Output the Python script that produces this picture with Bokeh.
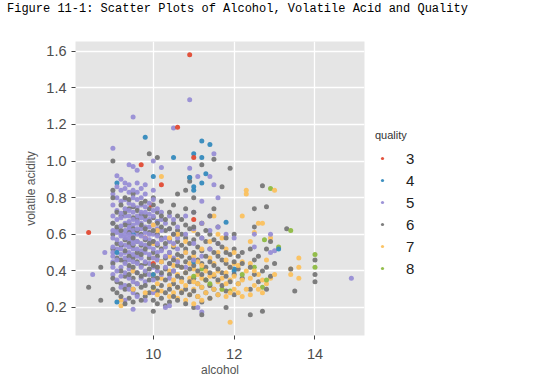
from bokeh.plotting import figure
from bokeh.layouts import column
from bokeh.models import (ColumnDataSource, Range1d, FixedTicker, Legend, LegendItem,
                          PrintfTickFormatter, Div)
from bokeh.embed import file_html
from bokeh.resources import INLINE

# ---- data: (alcohol, [volatile acidity, ...]) ----
q3_cols = [(8.4, [0.61]), (9.7, [0.98]), (9.95, [0.76]), (10.2, [0.87]), (10.6, [1.185]),
           (10.9, [1.58]), (11.0, [1.02]), (9.8, [0.58]), (10.0, [0.44]), (11.0, [0.68])]

q4_cols = [(9.1, [0.88, 0.23, 0.5]), (9.5, [0.6]), (9.8, [1.13]), (10.0, [0.915, 0.38]),
           (10.1, [0.67]), (10.5, [1.02]), (10.9, [0.91]), (11.0, [1.04, 0.86, 0.84, 0.45]),
           (11.2, [1.11, 1.02, 0.88]), (11.3, [0.93]), (11.4, [1.09]), (11.8, [0.665]),
           (12.0, [0.41, 0.40]), (13.1, [0.52])]

q5_cols = [
    (8.5, [0.38]), (8.8, [0.5]),
    (9.0, [0.38, 0.45, 0.5, 0.58, 0.62, 0.66, 0.7, 0.76, 0.82, 0.48, 0.53, 0.42, 1.07]),
    (9.1, [0.4, 0.46, 0.52, 0.57, 0.63, 0.68, 0.73, 0.8, 0.86, 0.92, 0.35, 0.61]),
    (9.2, [0.37, 0.42, 0.49, 0.55, 0.6, 0.645, 0.69, 0.715, 0.78, 0.84, 0.9, 0.31, 0.52, 0.59]),
    (9.3, [0.32, 0.39, 0.44, 0.5, 0.54, 0.58, 0.62, 0.66, 0.7, 0.74, 0.79, 0.85, 0.88, 0.47, 0.6, 0.24]),
    (9.4, [0.3, 0.36, 0.41, 0.46, 0.5, 0.53, 0.56, 0.6, 0.63, 0.67, 0.7, 0.73, 0.77, 0.83, 0.87, 0.58, 0.64, 0.98]),
    (9.5, [0.28, 0.34, 0.4, 0.45, 0.49, 0.52, 0.55, 0.59, 0.62, 0.65, 0.68, 0.72, 0.76, 0.8, 0.84, 0.57, 0.61, 0.97, 1.24, 0.19]),
    (9.6, [0.33, 0.39, 0.44, 0.48, 0.52, 0.56, 0.6, 0.63, 0.67, 0.7, 0.745, 0.79, 0.83, 0.88, 0.66, 0.26, 0.95]),
    (9.7, [0.36, 0.42, 0.47, 0.51, 0.55, 0.59, 0.63, 0.66, 0.69, 0.72, 0.76, 0.8, 0.85]),
    (9.8, [0.34, 0.4, 0.45, 0.5, 0.54, 0.58, 0.61, 0.64, 0.68, 0.72, 0.75, 0.82, 0.87, 0.24]),
    (9.9, [0.38, 0.44, 0.49, 0.53, 0.57, 0.6, 0.64, 0.68, 0.71, 0.77]),
    (10.0, [0.35, 0.42, 0.47, 0.52, 0.56, 0.6, 0.65, 0.7, 0.73, 0.79, 0.84, 1.0, 0.28]),
    (10.1, [0.4, 0.46, 0.5, 0.55, 0.59, 0.63, 0.67, 0.74]),
    (10.2, [0.38, 0.45, 0.51, 0.57, 0.62, 0.68, 0.72, 0.965]),
    (10.3, [0.42, 0.48, 0.53, 0.58, 0.66, 0.2]),
    (10.4, [0.36, 0.44, 0.5, 0.56, 0.63, 0.7, 0.21]),
    (10.5, [0.4, 0.47, 0.55, 0.6, 0.68, 1.18]),
    (10.6, [0.45, 0.52, 0.58, 0.64]),
    (10.8, [0.42, 0.5, 0.6, 0.7]),
    (10.9, [1.335, 0.96]),
    (11.0, [0.46, 0.55, 0.63, 0.72]),
    (11.1, [0.915, 0.2]),
    (11.2, [0.48, 0.58, 0.66, 0.78, 0.175]),
    (11.4, [0.52, 0.62, 0.7, 0.915]),
    (11.5, [1.04, 0.87]),
    (11.6, [0.55, 0.64, 0.8]),
    (11.8, [0.6]), (12.0, [0.58]), (12.5, [0.6, 0.53]),
    (12.9, [0.5, 0.6]), (13.0, [0.51]), (14.9, [0.36]),
]

q6_cols = [
    (8.4, [0.31]), (8.7, [0.24, 0.42]),
    (9.0, [0.3, 0.36, 0.44, 0.52, 0.6, 0.66, 0.8, 0.84, 1.0]),
    (9.1, [0.28, 0.34, 0.47, 0.55, 0.64, 0.72]),
    (9.2, [0.26, 0.33, 0.4, 0.46, 0.54, 0.62, 0.7, 0.76]),
    (9.3, [0.22, 0.3, 0.37, 0.45, 0.51, 0.57, 0.65, 0.72, 0.8]),
    (9.4, [0.25, 0.32, 0.38, 0.43, 0.48, 0.55, 0.61, 0.66, 0.74, 0.79]),
    (9.5, [0.23, 0.3, 0.36, 0.42, 0.47, 0.54, 0.58, 0.63, 0.69, 0.75, 0.82]),
    (9.6, [0.27, 0.33, 0.39, 0.45, 0.5, 0.56, 0.62, 0.68, 0.73]),
    (9.7, [0.24, 0.31, 0.37, 0.43, 0.49, 0.54, 0.6, 0.65, 0.71, 0.77]),
    (9.8, [0.26, 0.32, 0.38, 0.44, 0.52, 0.57, 0.63, 0.7, 0.78]),
    (9.9, [0.28, 0.35, 0.41, 0.47, 0.55, 0.61, 0.67, 0.74, 1.04]),
    (10.0, [0.18, 0.24, 0.31, 0.37, 0.43, 0.5, 0.56, 0.62, 0.69, 0.76, 0.8]),
    (10.1, [0.22, 0.29, 0.36, 0.42, 0.48, 0.54, 0.6, 0.66, 0.72, 1.02]),
    (10.2, [0.25, 0.32, 0.39, 0.45, 0.52, 0.58, 0.64, 0.7, 0.78]),
    (10.3, [0.21, 0.28, 0.35, 0.41, 0.47, 0.55, 0.62, 0.68]),
    (10.4, [0.23, 0.3, 0.38, 0.44, 0.5, 0.57, 0.63, 0.72]),
    (10.5, [0.26, 0.33, 0.4, 0.46, 0.53, 0.6, 0.66, 0.76]),
    (10.6, [0.24, 0.31, 0.37, 0.43, 0.49, 0.56, 0.62, 0.7, 0.82]),
    (10.7, [0.28, 0.36, 0.42, 0.48, 0.54, 0.6, 0.68]),
    (10.8, [0.22, 0.3, 0.39, 0.45, 0.52, 0.58, 0.65, 0.74, 0.84]),
    (10.9, [0.27, 0.34, 0.41, 0.47, 0.55, 0.63, 0.91, 0.89]),
    (11.0, [0.2, 0.29, 0.36, 0.43, 0.5, 0.57, 0.64, 0.72, 0.8]),
    (11.1, [0.26, 0.33, 0.4, 0.46, 0.53, 0.6]),
    (11.2, [0.16, 0.23, 0.31, 0.38, 0.44, 0.51, 0.58, 0.66, 0.98]),
    (11.3, [0.28, 0.35, 0.42, 0.48, 0.56, 0.62]),
    (11.4, [0.25, 0.32, 0.39, 0.45, 0.52, 0.6, 0.7]),
    (11.5, [0.3, 0.37, 0.43, 0.5, 0.57, 1.01, 0.74]),
    (11.6, [0.27, 0.35, 0.41, 0.48, 0.55, 0.64]),
    (11.7, [0.32, 0.39, 0.46, 0.53, 0.86]),
    (11.8, [0.2, 0.29, 0.37, 0.44, 0.5, 0.58]),
    (11.9, [0.34, 0.42, 0.49, 0.96]),
    (12.0, [0.27, 0.38, 0.45, 0.52, 0.6]),
    (12.1, [0.33, 0.41, 0.48]),
    (12.2, [0.36, 0.44, 0.5]),
    (12.4, [0.16, 0.3, 0.42, 0.52]),
    (12.5, [0.38, 0.46, 0.74, 0.64]),
    (12.6, [0.34, 0.48]),
    (12.7, [0.18, 0.4, 0.865]),
    (12.8, [0.3, 0.42, 0.52, 0.75]),
    (12.9, [0.37, 0.56]),
    (13.0, [0.44]), (13.3, [0.63]), (13.4, [0.41]), (13.5, [0.29]),
    (14.0, [0.34, 0.38, 0.46]),
]

q7_cols = [
    (9.2, [0.21, 0.24]), (9.5, [0.3, 0.4]), (9.8, [0.28]),
    (10.0, [0.3, 0.38, 0.47, 0.55, 0.65]),
    (10.1, [0.27, 0.33, 0.42, 0.62]),
    (10.2, [0.29, 0.36, 0.45, 0.52, 0.915]),
    (10.4, [0.26, 0.32, 0.4, 0.48, 0.58]),
    (10.5, [0.28, 0.35, 0.43, 0.54]),
    (10.6, [0.25, 0.31, 0.38, 0.46, 0.6]),
    (10.7, [0.29, 0.34, 0.42]),
    (10.8, [0.24, 0.32, 0.39, 0.5, 0.56]),
    (10.9, [0.27, 0.36, 0.44]),
    (11.0, [0.22, 0.3, 0.34, 0.41, 0.48, 0.62]),
    (11.1, [0.26, 0.33, 0.38, 0.45]),
    (11.2, [0.24, 0.31, 0.36, 0.43, 0.52, 0.66]),
    (11.3, [0.28, 0.35, 0.4]),
    (11.4, [0.25, 0.32, 0.37, 0.47, 0.56]),
    (11.5, [0.3, 0.38, 0.44, 0.7]),
    (11.6, [0.27, 0.34, 0.4, 0.5, 0.6]),
    (11.7, [0.3, 0.36, 0.58]),
    (11.8, [0.26, 0.33, 0.39, 0.46, 0.52]),
    (11.9, [0.12, 0.28, 0.35, 0.42]),
    (12.0, [0.3, 0.37, 0.44, 0.5]),
    (12.1, [0.28, 0.33, 0.43]),
    (12.2, [0.26, 0.35, 0.45, 0.7]),
    (12.3, [0.3, 0.4, 0.84, 0.82]),
    (12.4, [0.27, 0.36, 0.44, 0.56]),
    (12.5, [0.32, 0.4, 0.61]),
    (12.6, [0.3, 0.38, 0.66]),
    (12.7, [0.28, 0.35, 0.66]),
    (12.8, [0.33, 0.46]),
    (12.9, [0.36, 0.58]),
    (13.0, [0.38, 0.84]),
    (13.4, [0.38, 0.41]),
    (13.6, [0.36, 0.42, 0.47]),
]

q8_cols = [(9.8, [0.39]), (10.0, [0.31]), (11.0, [0.37]), (11.2, [0.41]), (11.3, [0.35]),
           (11.4, [0.33]), (11.7, [0.30]), (11.9, [0.29]), (12.2, [0.38]), (12.5, [0.42]),
           (12.7, [0.31]), (12.75, [0.57]), (12.8, [0.35]), (12.9, [0.85]),
           (13.1, [0.53]), (13.4, [0.62]), (14.0, [0.49, 0.42])]

qualities = ["3", "4", "5", "6", "7", "8"]
colors = ["#E24A33", "#348ABD", "#988ED5", "#777777", "#FBC15E", "#8EBA42"]
all_cols = [q3_cols, q4_cols, q5_cols, q6_cols, q7_cols, q8_cols]
x_ticks = [10, 12, 14]
y_ticks = [0.2, 0.4, 0.6, 0.8, 1.0, 1.2, 1.4, 1.6]
caption = "Figure 11-1: Scatter Plots of Alcohol, Volatile Acid and Quality"


def flatten(cols):
    pts = []
    for a, ys in cols:
        for v in ys:
            pts.append((a, v))
    # deterministic stride reordering to mix drawing order spatially
    n = len(pts)
    k = 7
    while n > 1 and (n % k == 0):
        k += 2
    return [pts[(i * k) % n] for i in range(n)] if n > 1 else pts


rows = []
for q, c, cols in zip(qualities, colors, all_cols):
    pts = flatten(cols)
    n = len(pts)
    for i, (a, v) in enumerate(pts):
        rows.append(((i + 0.5) / n, a, v, c, q))
rows.sort(key=lambda r: r[0])

src = ColumnDataSource(dict(alcohol=[r[1] for r in rows],
                            acidity=[r[2] for r in rows],
                            color=[r[3] for r in rows],
                            quality=[r[4] for r in rows]))

header = Div(text=caption, width=500, height=18, margin=(0, 0, 0, 7),
             styles={"font-family": "Liberation Mono", "font-size": "12px",
                     "line-height": "18px", "color": "#000000", "white-space": "nowrap"})

FW, FH = 289, 294
p = figure(output_backend="svg", toolbar_location=None,
           frame_width=FW, frame_height=FH,
           min_border_left=75, min_border_top=23, min_border_bottom=40, min_border_right=120,
           x_range=Range1d(8.075, 15.225), y_range=Range1d(0.047, 1.653),
           background_fill_color="#E5E5E5", border_fill_color="white")
p.outline_line_color = None

main = p.scatter("alcohol", "acidity", source=src, size=5, fill_color="color",
                 line_color=None, alpha=0.95)

# legend entries use the main renderer, one row of each quality
items = []
for q in qualities:
    idx = [r[4] for r in rows].index(q)
    items.append(LegendItem(label=q, renderers=[main], index=idx))

legend = Legend(items=items, title="quality", location=(11, 57),
                title_text_font="Liberation Sans", title_text_font_size="11px",
                title_text_color="#333333", title_text_font_style="normal", title_standoff=7,
                label_text_font="Liberation Sans", label_text_font_size="15px",
                label_text_color="#222222", glyph_width=14, glyph_height=8,
                label_height=20, spacing=2, label_standoff=17, padding=0, margin=0,
                background_fill_alpha=0, border_line_alpha=0)
p.add_layout(legend, "right")

for ax in (p.xaxis[0], p.yaxis[0]):
    ax.axis_line_color = None
    ax.major_tick_line_color = "#444444"
    ax.major_tick_out = 4
    ax.major_tick_in = 0
    ax.minor_tick_line_color = None
    ax.major_label_text_font = "Liberation Sans"
    ax.major_label_text_font_size = "14.5px"
    ax.major_label_text_color = "#4D4D4D"
    ax.axis_label_text_font = "Liberation Sans"
    ax.axis_label_text_font_size = "12px"
    ax.axis_label_text_font_style = "normal"
    ax.axis_label_text_color = "#555555"

p.xaxis.ticker = FixedTicker(ticks=x_ticks)
p.yaxis.ticker = FixedTicker(ticks=y_ticks)
p.yaxis.formatter = PrintfTickFormatter(format="%.1f")
p.xaxis.major_label_standoff = 9
p.yaxis.major_label_standoff = 5
p.xaxis.axis_label = "alcohol"
p.yaxis.axis_label = "volatile acidity"
p.xaxis.axis_label_standoff = 1
p.yaxis.axis_label_standoff = 5

p.xgrid.grid_line_color = "white"
p.ygrid.grid_line_color = "white"
p.xgrid.grid_line_width = 1.3
p.ygrid.grid_line_width = 1.3
p.xgrid.ticker = FixedTicker(ticks=x_ticks)
p.ygrid.ticker = FixedTicker(ticks=y_ticks)

layout = column(header, p, spacing=0)
open("out.html", "w").write(file_html(layout, INLINE))
